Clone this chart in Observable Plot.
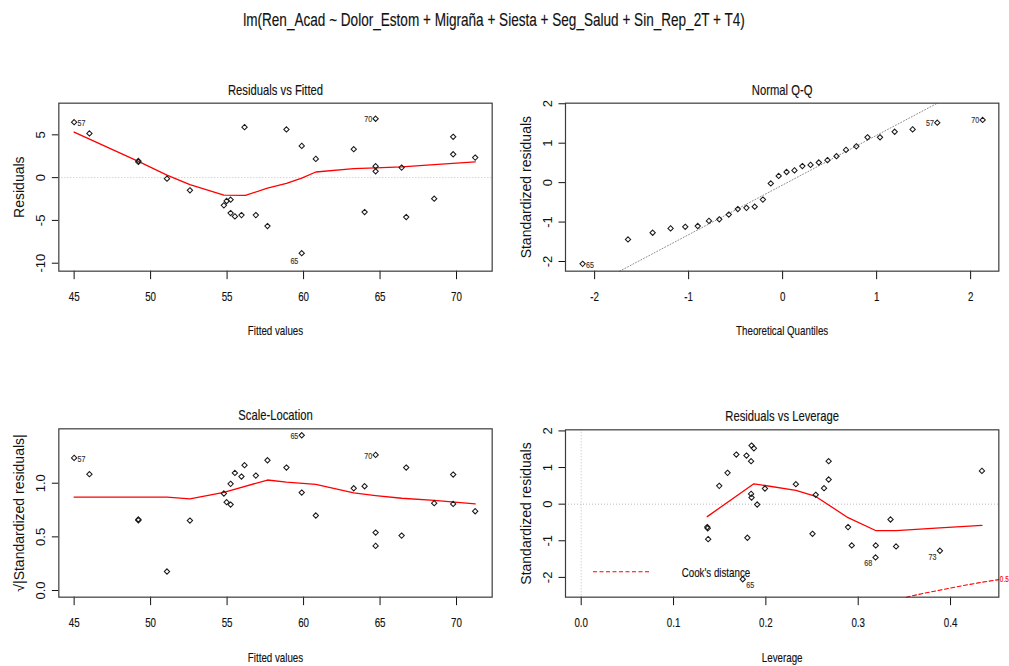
<!DOCTYPE html>
<html>
<head>
<meta charset="utf-8">
<script src="https://cdn.jsdelivr.net/npm/d3@7"></script>
<script src="https://cdn.jsdelivr.net/npm/@observablehq/plot@0.6"></script>
<style>
html, body { margin: 0; padding: 0; background: #fff; overflow: hidden; }
#wrap { position: relative; width: 1009px; height: 666px; background: #fff; font-family: "Liberation Sans", Arial, Helvetica, sans-serif; }
</style>
</head>
<body>
<div id="wrap"></div>
<script>
// ---------------- DATA ----------------
const mainTitle = "lm(Ren_Acad ~ Dolor_Estom + Migraña + Siesta + Seg_Salud + Sin_Rep_2T + T4)";

// Residuals vs Fitted
const fitted    = [45.0, 46.0, 49.2, 49.2, 51.07, 52.57, 54.79, 54.97, 55.23, 55.23, 55.51, 55.94, 56.14, 56.88, 57.64, 58.88, 59.88, 59.88, 60.80, 63.28, 63.99, 64.71, 64.71, 64.71, 66.41, 66.71, 68.54, 69.78, 69.78, 71.22];
const residuals = [6.48, 5.16, 1.95, 1.84, -0.12, -1.48, -3.24, -2.73, -2.58, -4.14, -4.53, -4.38, 5.90, -4.38, -5.66, 5.63, 3.71, -8.83, 2.19, 3.32, -4.02, 6.88, 1.33, 0.74, 1.17, -4.61, -2.46, 4.77, 2.73, 2.34];
const rvfSmoothX = [45.0, 49.2, 51.07, 52.57, 54.79, 56.2, 57.64, 58.88, 59.88, 60.80, 63.28, 64.71, 66.41, 68.54, 71.22];
const rvfSmoothY = [5.32, 1.9, 0.3, -0.82, -2.04, -2.08, -1.22, -0.66, -0.05, 0.66, 1.05, 1.13, 1.25, 1.52, 1.84];
const rvfLabelIdx = [0, 21, 17];
const rvfLabelIds = ["57", "70", "65"];

// Normal Q-Q
const theoQ   = [-2.128, -1.645, -1.383, -1.192, -1.036, -0.903, -0.784, -0.674, -0.573, -0.477, -0.385, -0.297, -0.210, -0.126, -0.042, 0.042, 0.126, 0.210, 0.297, 0.385, 0.477, 0.573, 0.674, 0.784, 0.903, 1.036, 1.192, 1.383, 1.645, 2.128];
const sampleQ = [-2.06, -1.44, -1.27, -1.16, -1.12, -1.10, -0.97, -0.93, -0.81, -0.67, -0.64, -0.61, -0.43, -0.02, 0.17, 0.27, 0.31, 0.42, 0.45, 0.51, 0.57, 0.67, 0.83, 0.92, 1.15, 1.15, 1.29, 1.35, 1.52, 1.59];
const qqLineIntercept = -0.06;
const qqLineSlope = 1.26;
const qqLabelIdx = [0, 28, 29];
const qqLabelIds = ["65", "57", "70"];

// Scale-Location
const sqrtStdRes = [1.236, 1.084, 0.662, 0.655, 0.177, 0.652, 0.904, 0.823, 0.801, 0.994, 1.096, 1.062, 1.168, 1.071, 1.214, 1.146, 0.913, 1.447, 0.699, 0.953, 0.972, 1.264, 0.540, 0.416, 0.512, 1.146, 0.814, 1.081, 0.807, 0.739];
const slSmoothX = [45.0, 51.07, 52.57, 54.79, 57.64, 58.88, 60.80, 63.28, 64.71, 66.41, 68.54, 71.22];
const slSmoothY = [0.87, 0.87, 0.855, 0.915, 1.03, 1.01, 0.99, 0.91, 0.885, 0.86, 0.84, 0.807];
const slLabelIdx = [0, 17, 21];
const slLabelIds = ["57", "65", "70"];

// Residuals vs Leverage
const leverage  = [0.1365, 0.137, 0.1375, 0.1495, 0.1585, 0.168, 0.175, 0.179, 0.180, 0.184, 0.1845, 0.187, 0.184, 0.1845, 0.1906, 0.199, 0.2325, 0.2505, 0.254, 0.263, 0.268, 0.268, 0.289, 0.293, 0.3188, 0.319, 0.335, 0.341, 0.3885, 0.434];
const stdResLev = [-0.627, -0.66, -0.955, 0.50, 0.855, 1.355, -2.05, 1.327, -0.918, 1.173, 1.60, 1.527, 0.28, 0.18, -0.01, 0.427, 0.545, -0.81, 0.255, 0.436, 0.673, 1.173, -0.627, -1.127, -1.455, -1.127, -0.418, -1.155, -1.273, 0.909];
const rvlSmoothX = [0.1365, 0.187, 0.199, 0.2325, 0.254, 0.289, 0.3188, 0.341, 0.3885, 0.434];
const rvlSmoothY = [-0.34, 0.555, 0.51, 0.375, 0.21, -0.37, -0.72, -0.72, -0.645, -0.58];
const cookH = [0.352, 0.37, 0.39, 0.41, 0.43, 0.4523];
const cookY = [-2.54, -2.44, -2.34, -2.24, -2.15, -2.06];
const cookLevelLabel = "0.5";
const cookLevelY = -2.06;
const rvlLabelIdx = [6, 24, 28];
const rvlLabelIds = ["65", "68", "73"];

// Tick labels
const fittedTicks = [45, 50, 55, 60, 65, 70];
const residTicks = [-10, -5, 0, 5];
const qqTicks = [-2, -1, 0, 1, 2];
const slTicks = [0, 0.5, 1.0];
const levTicks = [0, 0.1, 0.2, 0.3, 0.4];
const stdTicks = [-2, -1, 0, 1, 2];

// ---------------- STYLE / LAYOUT ----------------
const W = 1009, H = 666;
const FONT = "'Liberation Sans', Arial, Helvetica, sans-serif";
const INK = "#111";
const BOX = "#3c3c3c";
const GRAY = "#bdbdbd";
const GRAY_QQ = "#8c8c8c";
const DOT = "1,2";
const STYLE = `position:absolute;left:0;top:0;background:transparent;overflow:visible;max-width:none;font-family:${FONT};color:${INK};`;
const CONDENSE = 0.75;
const CONDENSE_TITLE = 0.775;

const rows = (xs, ys) => xs.map((x, i) => ({x, y: ys[i]}));

function pointLabels(xs, ys, idx, ids, negShift, posShift) {
  const mid = (d3.min(xs) + d3.max(xs)) / 2;
  return idx.map((k, j) => {
    const left = xs[k] > mid;
    return Plot.text([{x: xs[k], y: ys[k], id: ids[j]}], {
      x: "x", y: "y", text: "id",
      textAnchor: left ? "end" : "start",
      dx: left ? -3.4 : 3.4,
      dy: ys[k] < 0 ? negShift : posShift,
      lineAnchor: "middle", fontSize: 9.5, fill: "#333"
    });
  });
}

function panel(o) {
  const marks = [
    ...o.marks,
    Plot.frame({stroke: BOX, strokeWidth: 1.2}),
    Plot.text(o.xTicks, {x: d => d, text: o.xFmt, frameAnchor: "bottom", lineAnchor: "top", dy: 20.5, fontSize: 13, fill: INK}),
    Plot.text(o.yTicks, {y: d => d, text: o.yFmt, frameAnchor: "left", rotate: -90, textAnchor: "middle", lineAnchor: "bottom", dx: -14, fontSize: 13, fill: INK}),
    Plot.text([o.title], {text: d => d, frameAnchor: "top", lineAnchor: "bottom", dy: -8.5, fontSize: 15, fill: INK}),
    Plot.text([o.xLabel], {text: d => d, frameAnchor: "bottom", lineAnchor: "top", dy: o.xLabDy, fontSize: 13, fill: INK}),
    Plot.text([o.yLabel], {text: d => d, frameAnchor: "left", rotate: -90, textAnchor: "middle", lineAnchor: "bottom", dx: -35, fontSize: 14, fill: INK})
  ];
  return Plot.plot({
    width: W, height: H,
    marginLeft: o.frame[0], marginRight: W - o.frame[1], marginTop: o.frame[2], marginBottom: H - o.frame[3],
    style: STYLE,
    x: {domain: o.xDomain, ticks: o.xTicks, tickSize: 8.5, tickFormat: () => "", label: null},
    y: {domain: o.yDomain, ticks: o.yTicks, tickSize: 6.5, tickFormat: () => "", label: null},
    marks
  });
}

const dotOpts = {x: "x", y: "y", symbol: "diamond2", r: 2.4, stroke: "#1a1a1a", fill: "none", strokeWidth: 1.05};
const redOpts = {x: "x", y: "y", stroke: "#ff0000", strokeWidth: 1.3};

// Panel 1: Residuals vs Fitted
const residDomain = [-10.93, 8.70];
const fitDomain = [44.0, 72.33];
const p1 = panel({
  frame: [58.33, 491.67, 102.67, 270.67],
  xDomain: fitDomain, yDomain: residDomain,
  xTicks: fittedTicks, yTicks: residTicks, xFmt: d => String(d), yFmt: d => String(d),
  title: "Residuals vs Fitted", xLabel: "Fitted values", yLabel: "Residuals", xLabDy: 55,
  marks: [
    Plot.ruleY([0], {stroke: GRAY, strokeDasharray: DOT}),
    Plot.line(rows(rvfSmoothX, rvfSmoothY), redOpts),
    Plot.dot(rows(fitted, residuals), dotOpts),
    ...pointLabels(fitted, residuals, rvfLabelIdx, rvfLabelIds, 8, 0.5)
  ]
});

// Panel 2: Normal Q-Q
const qqYDomain = [-2.245, 2.015];
const qqLine = qqYDomain.map(y => ({x: (y - qqLineIntercept) / qqLineSlope, y}));
const p2 = panel({
  frame: [565, 998.33, 102.67, 270.67],
  xDomain: [-2.31, 2.30], yDomain: qqYDomain,
  xTicks: qqTicks, yTicks: qqTicks, xFmt: d => String(d), yFmt: d => String(d),
  title: "Normal Q-Q", xLabel: "Theoretical Quantiles", yLabel: "Standardized residuals", xLabDy: 55,
  marks: [
    Plot.line(qqLine, {x: "x", y: "y", stroke: GRAY_QQ, strokeDasharray: DOT, strokeWidth: 1}),
    Plot.dot(rows(theoQ, sampleQ), dotOpts),
    ...pointLabels(theoQ, sampleQ, qqLabelIdx, qqLabelIds, 1, 0.5)
  ]
});

// Panel 3: Scale-Location
const p3 = panel({
  frame: [58.33, 491.67, 428.33, 596.67],
  xDomain: fitDomain, yDomain: [-0.062, 1.507],
  xTicks: fittedTicks, yTicks: slTicks, xFmt: d => String(d), yFmt: d3.format(".1f"),
  title: "Scale-Location", xLabel: "Fitted values", yLabel: "√|Standardized residuals|", xLabDy: 56,
  marks: [
    Plot.line(rows(slSmoothX, slSmoothY), redOpts),
    Plot.dot(rows(fitted, sqrtStdRes), dotOpts),
    ...pointLabels(fitted, sqrtStdRes, slLabelIdx, slLabelIds, 1, 1)
  ]
});

// Panel 4: Residuals vs Leverage
const p4 = panel({
  frame: [565, 998.33, 429.33, 596.67],
  xDomain: [-0.017, 0.4523], yDomain: [-2.54, 2.03],
  xTicks: levTicks, yTicks: stdTicks, xFmt: d3.format(".1f"), yFmt: d => String(d),
  title: "Residuals vs Leverage", xLabel: "Leverage", yLabel: "Standardized residuals", xLabDy: 56,
  marks: [
    Plot.ruleY([0], {stroke: GRAY, strokeDasharray: DOT}),
    Plot.ruleX([0], {stroke: GRAY, strokeDasharray: DOT}),
    Plot.line(rows(cookH, cookY), {x: "x", y: "y", stroke: "#ff0000", strokeWidth: 1.1, strokeDasharray: "4,2.5"}),
    Plot.line(rows(rvlSmoothX, rvlSmoothY), redOpts),
    Plot.dot(rows(leverage, stdResLev), dotOpts),
    ...pointLabels(leverage, stdResLev, rvlLabelIdx, rvlLabelIds, 6, 0.5),
    Plot.text([{y: cookLevelY, t: cookLevelLabel}], {y: "y", text: "t", frameAnchor: "right", textAnchor: "start", lineAnchor: "middle", dx: 1, fontSize: 8.5, fill: "#ff0000"})
  ]
});

const wrap = document.getElementById("wrap");
[p1, p2, p3, p4].forEach(p => wrap.appendChild(p));

// Overall title and the Cook's distance legend
const over = d3.create("svg")
  .attr("width", W).attr("height", H)
  .attr("style", `position:absolute;left:0;top:0;overflow:visible;font-family:${FONT};`);
over.append("text").attr("class", "main-title")
  .attr("x", 494).attr("y", 26).attr("text-anchor", "middle")
  .attr("font-size", 17.5).attr("fill", INK).text(mainTitle);
over.append("line")
  .attr("x1", 593).attr("x2", 651).attr("y1", 571.7).attr("y2", 571.7)
  .attr("stroke", "#ff0000").attr("stroke-width", 1.1).attr("stroke-dasharray", "4,2.5");
over.append("text")
  .attr("x", 681.7).attr("y", 577).attr("font-size", 13).attr("fill", INK).text("Cook's distance");
wrap.appendChild(over.node());

// Horizontal text in the reference uses a slightly heavier condensed face; rotated text does not
wrap.querySelectorAll("text").forEach(t => {
  const tr = t.getAttribute("transform") || "";
  if (tr.includes("rotate")) return;
  const L = t.getComputedTextLength();
  if (L > 0) {
    const k = t.classList.contains("main-title") ? CONDENSE_TITLE : CONDENSE;
    t.setAttribute("textLength", (L * k).toFixed(2));
    t.setAttribute("lengthAdjust", "spacingAndGlyphs");
    const fill = t.getAttribute("fill") || getComputedStyle(t).fill;
    t.style.stroke = fill;
    t.style.strokeWidth = "0.15px";
  }
});
</script>
</body>
</html>
